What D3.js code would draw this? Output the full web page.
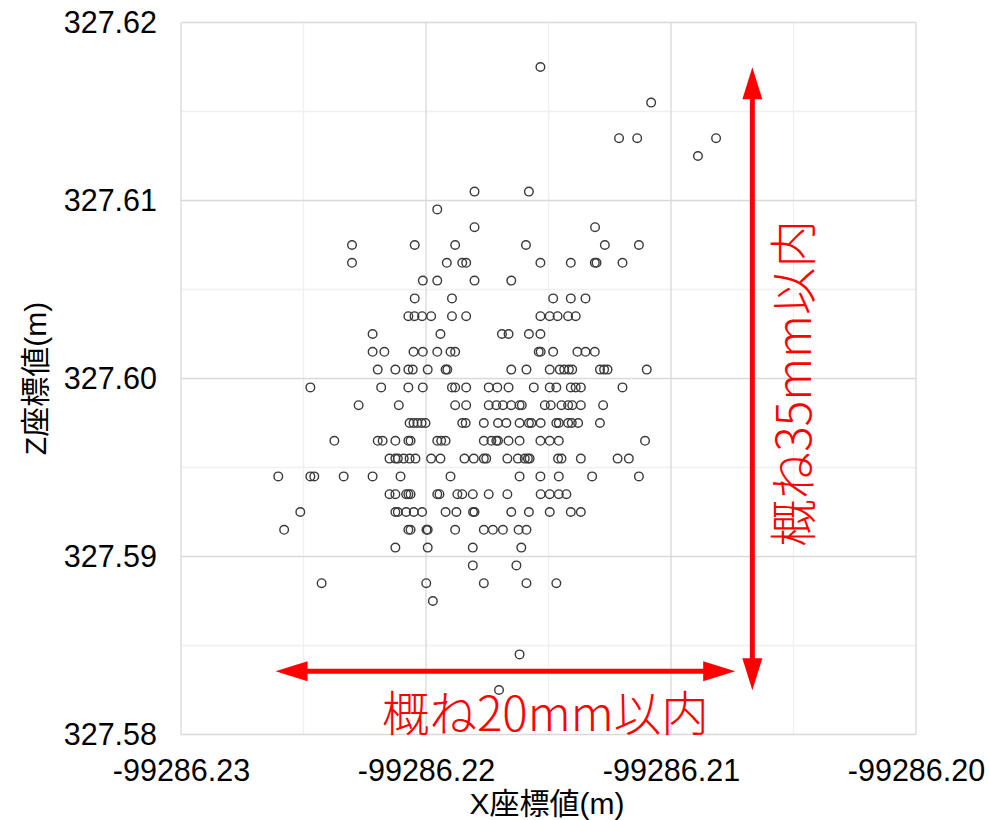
<!DOCTYPE html>
<html>
<head>
<meta charset="utf-8">
<script src="https://cdn.jsdelivr.net/npm/d3@7"></script>
<style>
  html, body { margin: 0; padding: 0; background: #fff; }
  svg { display: block; }
</style>
</head>
<body>
<svg id="chart" width="989" height="820"></svg>
<script>
// Z levels (m), one per row of points, and the X values (m) of each row
const zLevels = [327.6175, 327.6155, 327.6135, 327.6125, 327.6105, 327.6095, 327.6085, 327.6075,
    327.6065, 327.6055, 327.6045, 327.6035, 327.6025, 327.6015, 327.6005, 327.5995, 327.5985,
    327.5975, 327.5965, 327.5955, 327.5945, 327.5935, 327.5925, 327.5915, 327.5905, 327.5895,
    327.5885, 327.5875, 327.5845, 327.5825];

const xByRow = [
    [-99286.21533],
    [-99286.21081],
    [-99286.21212, -99286.21138, -99286.20816],
    [-99286.20890],
    [-99286.21802, -99286.21580],
    [-99286.21954],
    [-99286.21802, -99286.21310],
    [-99286.22302, -99286.22046, -99286.21881, -99286.21592, -99286.21270, -99286.21131],
    [-99286.22302, -99286.21915, -99286.21852, -99286.21836, -99286.21533, -99286.21409, -99286.21311, -99286.21304, -99286.21198],
    [-99286.22013, -99286.21954, -99286.21802, -99286.21652],
    [-99286.22046, -99286.21894, -99286.21481, -99286.21409, -99286.21349],
    [-99286.22072, -99286.22047, -99286.22016, -99286.21979, -99286.21894, -99286.21836, -99286.21533, -99286.21495, -99286.21463, -99286.21420, -99286.21389],
    [-99286.22218, -99286.21941, -99286.21690, -99286.21663, -99286.21580, -99286.21533],
    [-99286.22218, -99286.22170, -99286.22051, -99286.22013, -99286.21954, -99286.21900, -99286.21881, -99286.21540, -99286.21532, -99286.21481, -99286.21382, -99286.21349, -99286.21311],
    [-99286.22197, -99286.22125, -99286.22072, -99286.22054, -99286.21993, -99286.21920, -99286.21913, -99286.21652, -99286.21590, -99286.21495, -99286.21454, -99286.21436, -99286.21417, -99286.21403, -99286.21290, -99286.21273, -99286.21259, -99286.21099],
    [-99286.22472, -99286.22183, -99286.22072, -99286.22013, -99286.21894, -99286.21881, -99286.21836, -99286.21744, -99286.21709, -99286.21663, -99286.21560, -99286.21495, -99286.21468, -99286.21409, -99286.21389, -99286.21368, -99286.21198],
    [-99286.22275, -99286.22111, -99286.21881, -99286.21836, -99286.21744, -99286.21713, -99286.21686, -99286.21652, -99286.21618, -99286.21609, -99286.21515, -99286.21491, -99286.21447, -99286.21420, -99286.21403, -99286.21368, -99286.21277],
    [-99286.22067, -99286.22051, -99286.22035, -99286.22018, -99286.22002, -99286.21852, -99286.21838, -99286.21764, -99286.21706, -99286.21672, -99286.21618, -99286.21580, -99286.21570, -99286.21532, -99286.21468, -99286.21458, -99286.21420, -99286.21405, -99286.21379, -99286.21290],
    [-99286.22374, -99286.22197, -99286.22177, -99286.22125, -99286.22072, -99286.22063, -99286.21954, -99286.21938, -99286.21920, -99286.21764, -99286.21733, -99286.21713, -99286.21706, -99286.21663, -99286.21618, -99286.21533, -99286.21495, -99286.21458, -99286.21106],
    [-99286.22149, -99286.22125, -99286.22115, -99286.22091, -99286.22067, -99286.22043, -99286.21979, -99286.21941, -99286.21843, -99286.21805, -99286.21764, -99286.21754, -99286.21668, -99286.21625, -99286.21597, -99286.21584, -99286.21577, -99286.21461, -99286.21447, -99286.21368, -99286.21218, -99286.21172],
    [-99286.22603, -99286.22472, -99286.22456, -99286.22336, -99286.22218, -99286.22104, -99286.21900, -99286.21618, -99286.21533, -99286.21458, -99286.21322, -99286.21131],
    [-99286.22149, -99286.22125, -99286.22081, -99286.22072, -99286.22063, -99286.21954, -99286.21945, -99286.21872, -99286.21852, -99286.21809, -99286.21744, -99286.21668, -99286.21532, -99286.21495, -99286.21458, -99286.21427],
    [-99286.22513, -99286.22125, -99286.22115, -99286.22081, -99286.22050, -99286.22016, -99286.21920, -99286.21876, -99286.21808, -99286.21802, -99286.21652, -99286.21580, -99286.21495, -99286.21409, -99286.21368],
    [-99286.22579, -99286.22072, -99286.22063, -99286.21998, -99286.21993, -99286.21881, -99286.21764, -99286.21727, -99286.21686, -99286.21622, -99286.21590],
    [-99286.22125, -99286.21993, -99286.21809, -99286.21611],
    [-99286.21809, -99286.21631],
    [-99286.22426, -99286.21999, -99286.21764, -99286.21590, -99286.21468],
    [-99286.21972],
    [-99286.21618],
    [-99286.21702]
];

const xTicks = [-99286.23, -99286.22, -99286.21, -99286.20];
const yTicks = [327.58, 327.59, 327.60, 327.61, 327.62];
const xMinor = [-99286.225, -99286.215, -99286.205];
const yMinor = [327.585, 327.595, 327.605, 327.615];

const xTitle = "X座標値(m)";
const yTitle = "Z座標値(m)";

// red notes: [x1, z1, x2, z2] of the arrows, text anchor [x, z]
const arrowX = [-99286.22614, 327.58356, -99286.20738, 327.58356];
const arrowZ = [-99286.20668, 327.61749, -99286.20668, 327.58248];
const noteX = { text: "概ね20mm以内", at: [-99286.21513, 327.58017] };
const noteZ = { text: "概ね35mm以内", at: [-99286.20427, 327.59973] };

const points = [];
zLevels.forEach((z, i) => xByRow[i].forEach(x => points.push({ x: x, z: z })));

const svg = d3.select("#chart");
const area = { left: 181, right: 916, top: 22.5, bottom: 734.5 };

const scX = d3.scaleLinear().domain([-99286.23, -99286.20]).range([area.left, area.right]);
const scY = d3.scaleLinear().domain([327.58, 327.62]).range([area.bottom, area.top]);

// minor grid
svg.append("g").selectAll("line").data(xMinor).enter().append("line")
    .attr("x1", d => scX(d)).attr("x2", d => scX(d))
    .attr("y1", area.top).attr("y2", area.bottom)
    .attr("stroke", "#f0f0f0").attr("stroke-width", 1.3);
svg.append("g").selectAll("line").data(yMinor).enter().append("line")
    .attr("y1", d => scY(d)).attr("y2", d => scY(d))
    .attr("x1", area.left).attr("x2", area.right)
    .attr("stroke", "#f0f0f0").attr("stroke-width", 1.3);

// major grid
svg.append("g").selectAll("line").data(xTicks).enter().append("line")
    .attr("x1", d => scX(d)).attr("x2", d => scX(d))
    .attr("y1", area.top).attr("y2", area.bottom)
    .attr("stroke", "#d9d9d9").attr("stroke-width", 1.3);
svg.append("g").selectAll("line").data(yTicks).enter().append("line")
    .attr("y1", d => scY(d)).attr("y2", d => scY(d))
    .attr("x1", area.left).attr("x2", area.right)
    .attr("stroke", "#d9d9d9").attr("stroke-width", 1.3);

// axes (labels only)
const axisX = d3.axisBottom(scX).tickValues(xTicks).tickSize(0).tickPadding(25)
    .tickFormat(d => d.toFixed(2));
const axisY = d3.axisLeft(scY).tickValues(yTicks).tickSize(0).tickPadding(24)
    .tickFormat(d => d.toFixed(2));

const gx = svg.append("g").attr("transform", `translate(0, ${area.bottom})`).call(axisX);
const gy = svg.append("g").attr("transform", `translate(${area.left}, 0)`).call(axisY);
[gx, gy].forEach(g => {
    g.select(".domain").remove();
    g.selectAll("text")
        .attr("fill", "#000")
        .style("font-family", "'Liberation Sans', Arial, sans-serif")
        .style("font-size", "30.5px");
});

// titles
svg.append("text")
    .attr("x", 547).attr("y", 814)
    .attr("text-anchor", "middle")
    .style("font-family", "'Liberation Sans', 'Noto Sans CJK JP', sans-serif")
    .style("font-size", "30px")
    .text(xTitle);
svg.append("text")
    .attr("transform", `translate(46, ${(area.top + area.bottom) / 2}) rotate(-90)`)
    .attr("text-anchor", "middle")
    .style("font-family", "'Liberation Sans', 'Noto Sans CJK JP', sans-serif")
    .style("font-size", "30px")
    .text(yTitle);

// points
svg.append("g").selectAll("circle")
    .data(points).enter()
    .append("circle")
    .attr("cx", d => scX(d.x))
    .attr("cy", d => scY(d.z))
    .attr("r", 4.3)
    .attr("fill", "none")
    .attr("stroke", "#3a3a3a")
    .attr("stroke-width", 1.4);

// red double arrows
function drawArrow(a) {
    const x1 = scX(a[0]), y1 = scY(a[1]), x2 = scX(a[2]), y2 = scY(a[3]);
    const len = Math.hypot(x2 - x1, y2 - y1);
    const ux = (x2 - x1) / len, uy = (y2 - y1) / len;
    const head = 32, half = 10;
    svg.append("line")
        .attr("x1", x1 + ux * (head - 2)).attr("y1", y1 + uy * (head - 2))
        .attr("x2", x2 - ux * (head - 2)).attr("y2", y2 - uy * (head - 2))
        .attr("stroke", "#ff0000").attr("stroke-width", 5);
    const tri = (tx, ty, dx, dy) => {
        const bx = tx + dx * head, by = ty + dy * head;
        return `M${tx},${ty}L${bx - dy * half},${by + dx * half}L${bx + dy * half},${by - dx * half}Z`;
    };
    svg.append("path").attr("d", tri(x1, y1, ux, uy)).attr("fill", "#ff0000");
    svg.append("path").attr("d", tri(x2, y2, -ux, -uy)).attr("fill", "#ff0000");
}
drawArrow(arrowX);
drawArrow(arrowZ);

svg.append("text")
    .attr("x", scX(noteX.at[0])).attr("y", scY(noteX.at[1]))
    .attr("text-anchor", "middle")
    .attr("fill", "#ff0000")
    .style("font-family", "'Noto Sans CJK JP', sans-serif")
    .style("font-weight", 300)
    .style("font-size", "47.5px")
    .text(noteX.text);
svg.append("text")
    .attr("transform", `translate(${scX(noteZ.at[0])}, ${scY(noteZ.at[1])}) rotate(-90)`)
    .attr("text-anchor", "middle")
    .attr("fill", "#ff0000")
    .style("font-family", "'Noto Sans CJK JP', sans-serif")
    .style("font-weight", 300)
    .style("font-size", "47.5px")
    .text(noteZ.text);
</script>
</body>
</html>
